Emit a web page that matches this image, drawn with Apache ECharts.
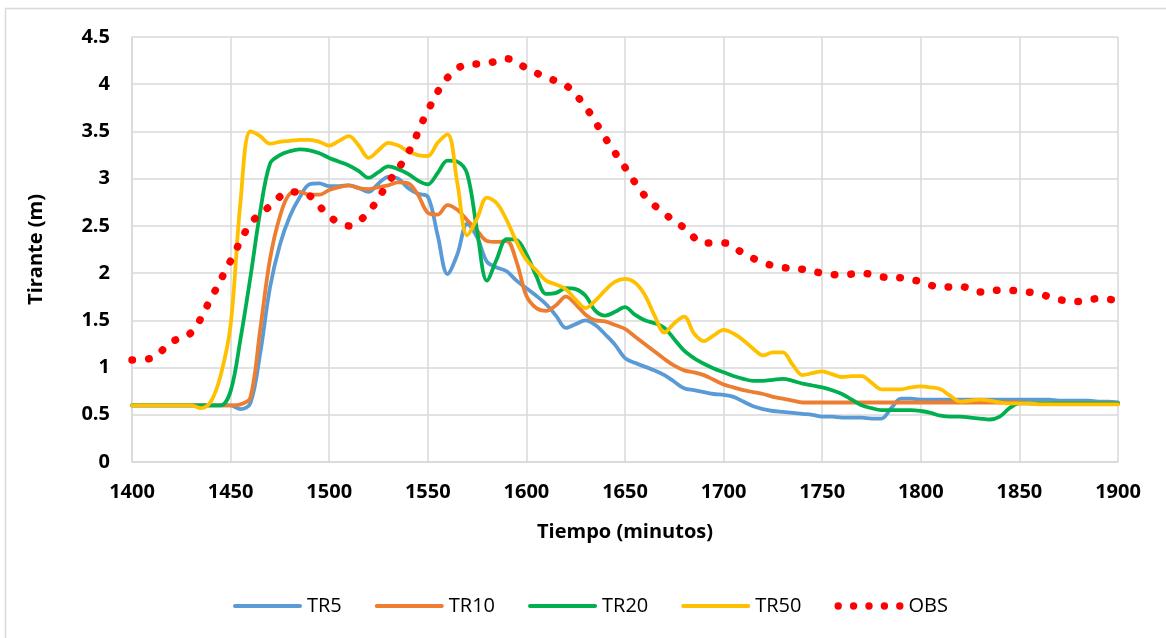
<!DOCTYPE html>
<html>
<head>
<meta charset="utf-8">
<script src="https://cdn.jsdelivr.net/npm/echarts@6/dist/echarts.min.js"></script>
<style>
  html, body { margin: 0; padding: 0; background: #fff; }
  #chart { width: 1166px; height: 638px; }
</style>
</head>
<body>
<div id="chart"></div>
<script>
// Simulated depth series share a 5-minute time step
const timeSim = [];
for (let t = 1400; t <= 1900; t += 5) timeSim.push(t);

const tr5 = [
  0.60, 0.60, 0.60, 0.60, 0.60, 0.60, 0.60, 0.60, 0.60, 0.60,
  0.60, 0.56, 0.62, 1.15, 1.85, 2.30, 2.60, 2.80, 2.94, 2.95,
  2.92, 2.92, 2.93, 2.90, 2.86, 2.95, 3.02, 3.00, 2.90, 2.84,
  2.81, 2.40, 1.99, 2.20, 2.52, 2.38, 2.12, 2.06, 2.02, 1.92,
  1.84, 1.76, 1.67, 1.55, 1.42, 1.46, 1.50, 1.45, 1.35, 1.24,
  1.10, 1.05, 1.01, 0.97, 0.92, 0.85, 0.78, 0.76, 0.74, 0.72,
  0.71, 0.69, 0.64, 0.59, 0.56, 0.54, 0.53, 0.52, 0.51, 0.50,
  0.48, 0.48, 0.47, 0.47, 0.47, 0.46, 0.46, 0.57, 0.67, 0.67,
  0.66, 0.66, 0.66, 0.66, 0.66, 0.66, 0.66, 0.66, 0.66, 0.66,
  0.66, 0.66, 0.66, 0.66, 0.65, 0.65, 0.65, 0.65, 0.64, 0.64,
  0.63
];

const tr10 = [
  0.60, 0.60, 0.60, 0.60, 0.60, 0.60, 0.60, 0.60, 0.60, 0.60,
  0.60, 0.61, 0.68, 1.40, 2.15, 2.60, 2.84, 2.86, 2.83, 2.83,
  2.88, 2.91, 2.93, 2.90, 2.89, 2.91, 2.93, 2.96, 2.95, 2.83,
  2.64, 2.62, 2.72, 2.67, 2.56, 2.45, 2.34, 2.33, 2.34, 2.12,
  1.76, 1.63, 1.60, 1.66, 1.75, 1.67, 1.56, 1.50, 1.49, 1.45,
  1.41, 1.33, 1.25, 1.17, 1.09, 1.02, 0.97, 0.95, 0.92, 0.87,
  0.82, 0.79, 0.76, 0.74, 0.72, 0.69, 0.67, 0.65, 0.63, 0.63,
  0.63, 0.63, 0.63, 0.63, 0.63, 0.63, 0.63, 0.63, 0.63, 0.63,
  0.63, 0.63, 0.63, 0.63, 0.63, 0.63, 0.63, 0.63, 0.63, 0.63,
  0.63, 0.62, 0.62, 0.62, 0.62, 0.62, 0.62, 0.62, 0.62, 0.62,
  0.62
];

const tr20 = [
  0.60, 0.60, 0.60, 0.60, 0.60, 0.60, 0.60, 0.60, 0.60, 0.60,
  0.75, 1.30, 1.95, 2.65, 3.16, 3.25, 3.29, 3.31, 3.30, 3.27,
  3.22, 3.18, 3.14, 3.08, 3.01, 3.07, 3.13, 3.10, 3.05, 2.98,
  2.94, 3.06, 3.19, 3.18, 3.05, 2.45, 1.92, 2.15, 2.36, 2.35,
  2.20, 1.97, 1.78, 1.79, 1.84, 1.83, 1.76, 1.60, 1.55, 1.59,
  1.64, 1.56, 1.50, 1.47, 1.42, 1.30, 1.18, 1.10, 1.04, 0.99,
  0.95, 0.91, 0.88, 0.86, 0.86, 0.87, 0.88, 0.86, 0.83, 0.81,
  0.79, 0.76, 0.72, 0.66, 0.60, 0.57, 0.55, 0.55, 0.55, 0.55,
  0.54, 0.52, 0.49, 0.48, 0.48, 0.47, 0.46, 0.45, 0.48, 0.57,
  0.62, 0.62, 0.62, 0.62, 0.62, 0.62, 0.62, 0.62, 0.62, 0.62,
  0.62
];

const tr50 = [
  0.60, 0.60, 0.60, 0.60, 0.60, 0.60, 0.60, 0.57, 0.64, 0.92,
  1.45, 2.75, 3.50, 3.45, 3.37, 3.39, 3.40, 3.41, 3.41, 3.39,
  3.35, 3.40, 3.45, 3.35, 3.22, 3.30, 3.38, 3.35, 3.29, 3.25,
  3.24, 3.38, 3.47, 2.95, 2.40, 2.58, 2.80, 2.74, 2.56, 2.33,
  2.14, 2.03, 1.92, 1.88, 1.83, 1.72, 1.63, 1.71, 1.82, 1.91,
  1.94, 1.90, 1.77, 1.55, 1.37, 1.47, 1.54, 1.36, 1.28, 1.34,
  1.40, 1.36, 1.29, 1.20, 1.13, 1.16, 1.16, 1.03, 0.92, 0.94,
  0.96, 0.93, 0.90, 0.91, 0.91, 0.84, 0.77, 0.77, 0.77, 0.79,
  0.80, 0.79, 0.77, 0.70, 0.64, 0.65, 0.66, 0.65, 0.63, 0.62,
  0.62, 0.62, 0.61, 0.61, 0.61, 0.61, 0.61, 0.61, 0.61, 0.61,
  0.61
];

// Observed depth, 10-minute readings
const timeObs = [];
for (let t = 1400; t <= 1900; t += 10) timeObs.push(t);
const obs = [
  1.08, 1.10, 1.27, 1.37, 1.73, 2.13, 2.52, 2.71, 2.86, 2.82,
  2.60, 2.50, 2.65, 2.96, 3.27, 3.72, 4.07, 4.21, 4.22, 4.27,
  4.17, 4.07, 3.99, 3.76, 3.43, 3.12, 2.82, 2.63, 2.48, 2.32,
  2.32, 2.21, 2.11, 2.06, 2.04, 2.00, 1.98, 2.00, 1.96, 1.95,
  1.91, 1.85, 1.86, 1.80, 1.82, 1.81, 1.78, 1.72, 1.70, 1.73,
  1.71
];

const seriesNames = ['TR5', 'TR10', 'TR20', 'TR50', 'OBS'];
const seriesColors = ['#5B9BD5', '#ED7D31', '#00B050', '#FFC000', '#FF0000'];

const FONT = '"Open Sans", "Liberation Sans", sans-serif';

// Legend swatches: a 69x8 box holding either a thin bar or a row of dots
const ICON_BOX = 'M0,0 M69,8 ';
const ICON_BAR = 'path://' + ICON_BOX + 'M1,2 L68,2 A2,2 0 0,1 68,6 L1,6 A2,2 0 0,1 1,2 Z';
function dot(cx) {
  return 'M' + (cx - 3.7) + ',4 a3.7,3.7 0 1,0 7.4,0 a3.7,3.7 0 1,0 -7.4,0 ';
}
const ICON_DOTS = 'path://' + ICON_BOX + dot(3.7) + dot(19.1) + dot(34.5) + dot(49.9) + dot(65.3);

function pair(times, values) {
  return times.map((t, i) => [t, values[i]]);
}

function simSeries(idx, values) {
  return {
    name: seriesNames[idx],
    type: 'line',
    data: pair(timeSim, values),
    smooth: 0.35,
    showSymbol: false,
    symbol: 'none',
    lineStyle: { color: seriesColors[idx], width: 3.8, cap: 'round', join: 'round' },
    itemStyle: { color: seriesColors[idx] },
    z: 2 + idx
  };
}

const chart = echarts.init(document.getElementById('chart'), null, { renderer: 'canvas' });

chart.setOption({
  animation: false,
  backgroundColor: '#ffffff',
  graphic: [{
    type: 'rect',
    shape: { x: 5.5, y: 8.5, width: 1300, height: 800 },
    style: { fill: 'none', stroke: '#D9D9D9', lineWidth: 1.5 },
    silent: true,
    z: -10
  }],
  grid: { left: 132, right: 48, top: 37, bottom: 176, containLabel: false },
  xAxis: {
    type: 'value',
    min: 1400,
    max: 1900,
    interval: 50,
    name: 'Tiempo (minutos)',
    nameLocation: 'middle',
    nameGap: 60,
    nameTextStyle: { fontFamily: FONT, fontSize: 20, fontWeight: 'bold', color: '#000' },
    axisLine: { show: true, lineStyle: { color: '#D9D9D9', width: 1.5 } },
    axisTick: { show: false },
    axisLabel: {
      fontFamily: FONT, fontSize: 20, fontWeight: 'bold', color: '#000', margin: 20,
      formatter: v => String(v)
    },
    splitLine: { show: true, lineStyle: { color: '#D9D9D9', width: 1.5 } }
  },
  yAxis: {
    type: 'value',
    min: 0,
    max: 4.5,
    interval: 0.5,
    name: 'Tirante (m)',
    nameLocation: 'middle',
    nameRotate: 90,
    nameGap: 86,
    nameTextStyle: { fontFamily: FONT, fontSize: 20, fontWeight: 'bold', color: '#000' },
    axisLine: { show: true, lineStyle: { color: '#D9D9D9', width: 1.5 } },
    axisTick: { show: false },
    axisLabel: {
      fontFamily: FONT, fontSize: 20, fontWeight: 'bold', color: '#000', margin: 22,
      formatter: v => String(v)
    },
    splitLine: { show: true, lineStyle: { color: '#D9D9D9', width: 1.5 } }
  },
  legend: {
    left: 228,
    top: 591,
    itemWidth: 69,
    itemHeight: 8,
    itemGap: 33,
    itemStyle: { borderWidth: 0 },
    textStyle: { fontFamily: FONT, fontSize: 20, color: '#000' },
    data: seriesNames.map((n, i) => ({ name: n, icon: i === 4 ? ICON_DOTS : ICON_BAR }))
  },
  series: [
    simSeries(0, tr5),
    simSeries(1, tr10),
    simSeries(2, tr20),
    simSeries(3, tr50),
    {
      name: seriesNames[4],
      type: 'line',
      data: pair(timeObs, obs),
      smooth: 0.35,
      showSymbol: false,
      symbol: 'none',
      lineStyle: { color: seriesColors[4], width: 7.5, type: [0.5, 16], cap: 'round' },
      itemStyle: { color: seriesColors[4] },
      z: 10
    }
  ]
});
</script>
</body>
</html>
